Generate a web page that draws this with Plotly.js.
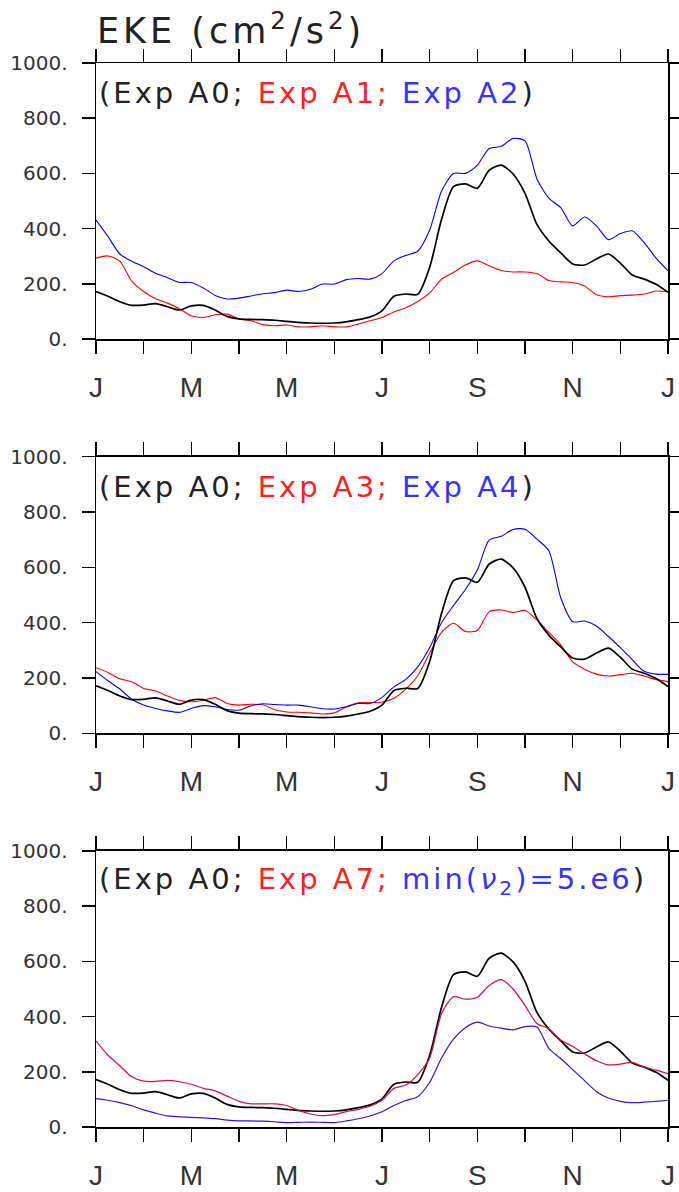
<!DOCTYPE html>
<html>
<head>
<meta charset="utf-8">
<script src="https://cdn.plot.ly/plotly-3.0.1.min.js"></script>
<style>
html,body{margin:0;padding:0;background:#fff;}
#chart{width:679px;height:1192px;}
#chart .gtitle{letter-spacing:4px !important;}
#chart .annotation-text{letter-spacing:3px !important;}
</style>
</head>
<body>
<div id="chart"></div>
<script>
// month position (0 = Jan 1, 12 = next Jan 1), step of one week-ish
const months = [0,0.25,0.5,0.75,1,1.25,1.5,1.75,2,2.25,2.5,2.75,3,3.25,3.5,3.75,4,4.25,4.5,4.75,5,5.25,5.5,5.75,6,6.25,6.5,6.75,7,7.25,7.5,7.75,8,8.25,8.5,8.75,9,9.25,9.5,9.75,10,10.25,10.5,10.75,11,11.25,11.5,11.75,12];

const labelMonths = [0,2,4,6,8,10,12];
const monthLabels = ['J','M','M','J','S','N','J'];
const oddMonths = [1,3,5,7,9,11];
const yTicks = [0,200,400,600,800,1000];
const yTickLabels = ['0.','200.','400.','600.','800.','1000.'];

// Exp A0 (reference, black, same in all panels)
const expA0 = [172,155,135,122,123,128,117,105,120,122,105,82,73,71,70,68,64,60,58,57,58,62,70,80,102,155,163,162,260,434,552,562,546,612,630,598,528,415,355,312,272,268,290,308,275,232,217,198,169];
// Panel 1
const expA1 = [293,301,282,210,172,146,130,110,84,78,88,90,73,66,52,48,51,44,44,48,44,44,54,66,78,98,113,136,167,217,241,268,283,265,248,243,243,237,212,207,205,192,160,153,157,159,163,174,171];
const expA2 = [431,372,308,282,262,238,222,205,205,185,158,145,148,156,164,168,177,172,180,199,199,215,219,217,237,283,303,318,395,536,600,600,630,690,698,727,718,580,510,476,410,442,410,360,382,392,349,293,247];
// Panel 2
const expA3 = [237,220,197,186,162,153,135,119,114,120,129,108,102,105,103,85,77,76,74,70,74,95,110,111,113,127,160,208,290,365,398,368,372,440,446,437,444,410,365,320,258,232,214,207,212,217,207,194,187];
const expA4 = [223,190,160,123,102,90,81,76,90,100,96,86,84,99,107,104,102,102,96,89,88,96,108,108,130,168,195,240,310,400,462,520,590,699,712,737,738,702,660,490,404,406,388,350,310,266,224,214,213];
// Panel 3
const expA7 = [312,260,222,182,166,165,169,164,155,140,131,112,93,84,84,84,78,60,47,41,45,56,64,75,97,140,152,190,250,411,472,463,470,513,534,500,440,375,356,315,292,265,240,225,228,234,217,206,193];
const minNu2 = [103,97,88,77,62,50,40,37,35,33,30,25,22,22,21,19,16,17,18,17,16,22,30,40,55,78,96,110,162,250,318,360,380,366,358,352,364,362,285,248,208,168,128,105,93,88,90,93,97];

function lbl(b, c) {
  return '<span style="color:#222">(Exp A0; </span>' +
         '<span style="color:#ff2020">Exp ' + b + '; </span>' +
         '<span style="color:#3434ff">' + c + '</span><span style="color:#222">)</span>';
}
const panelLabels = [
  lbl('A1', 'Exp A2'),
  lbl('A3', 'Exp A4'),
  lbl('A7', 'min(<i>ν</i><sub>2</sub>)=5.e6')
];

function line(y, color, width, ax) {
  return {x: months, y: y, type: 'scatter', mode: 'lines',
    line: {color: color, width: width, shape: 'spline', smoothing: 0.7},
    xaxis: 'x' + ax, yaxis: 'y' + ax, hoverinfo: 'skip', showlegend: false};
}

const data = [
  line(expA1, '#ff0000', 1.1, ''), line(expA2, '#0000ff', 1.1, ''), line(expA0, '#000000', 1.7, ''),
  line(expA3, '#ff0000', 1.1, '2'), line(expA4, '#0000ff', 1.1, '2'), line(expA0, '#000000', 1.7, '2'),
  line(expA0, '#000000', 1.7, '3'), line(minNu2, '#3a10d8', 1.2, '3'), line(expA7, '#d8103c', 1.2, '3')
];

function xax(anchor) {
  return {range: [0, 12], anchor: anchor, domain: [0, 1], tickmode: 'array',
    tickvals: labelMonths, ticktext: monthLabels, ticks: 'outside', ticklen: 13, tickwidth: 1.5,
    tickcolor: '#000', showline: true, linecolor: '#000', linewidth: 1.5, mirror: 'allticks',
    minor: {tickmode: 'array', tickvals: oddMonths, ticks: 'outside', ticklen: 13, tickwidth: 1.2, tickcolor: '#000', showgrid: false},
    showgrid: false, zeroline: false, ticklabelstandoff: 10,
    tickfont: {family: 'Liberation Sans', size: 28, color: '#333'}};
}
function yax(anchor, dom) {
  return {range: [0, 1000], anchor: anchor, domain: dom, tickmode: 'array',
    tickvals: yTicks, ticktext: yTickLabels, ticks: 'outside', ticklen: 13, tickwidth: 1.5,
    tickcolor: '#000', showline: true, linecolor: '#000', linewidth: 1.5, mirror: 'allticks',
    showgrid: false, zeroline: false, ticklabelstandoff: 10,
    tickfont: {family: 'DejaVu Sans', size: 20, color: '#333'}};
}

const annotations = panelLabels.map((t, i) => ({
  text: t, xref: 'x' + (i ? i + 1 : ''), yref: 'y' + (i ? i + 1 : ''), x: 0, y: 890,
  xanchor: 'left', yanchor: 'middle', align: 'left', showarrow: false, xshift: 1,
  font: {family: 'DejaVu Sans', size: 29, color: '#222'}
}));

const layout = {
  width: 679, height: 1192,
  margin: {l: 96, r: 11, t: 63, b: 65},
  paper_bgcolor: '#fff', plot_bgcolor: '#fff',
  title: {text: 'EKE (cm<sup>2</sup>/s<sup>2</sup>)', xref: 'container', yref: 'container',
    x: 97/679, xanchor: 'left', y: 1 - 31/1192, yanchor: 'middle',
    font: {family: 'DejaVu Sans', size: 35, color: '#222'}},
  xaxis: xax('y'), yaxis: yax('x', [0.7406, 1]),
  xaxis2: xax('y2'), yaxis2: yax('x2', [0.370, 0.630]),
  xaxis3: xax('y3'), yaxis3: yax('x3', [0, 0.2594]),
  annotations: annotations
};

Plotly.newPlot('chart', data, layout, {displayModeBar: false, staticPlot: true});
</script>
</body>
</html>
